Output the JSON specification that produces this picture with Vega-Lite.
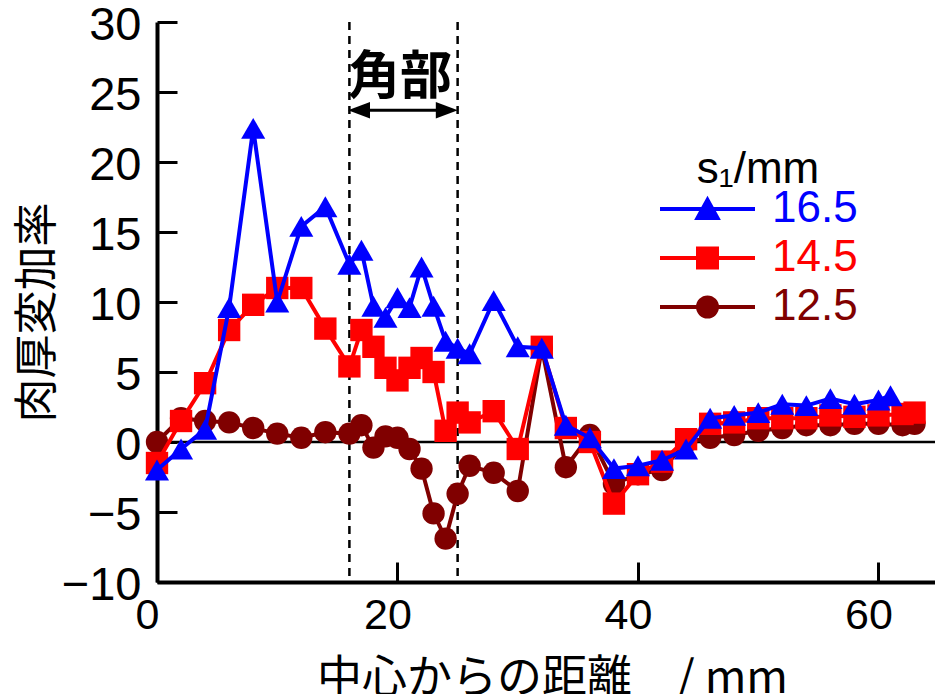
{
  "$schema": "https://vega.github.io/schema/vega-lite/v6.json",
  "width": 778,
  "height": 560,
  "autosize": "none",
  "padding": {"left": 157, "top": 22, "right": 0, "bottom": 112},
  "config": {"view": {"stroke": null}, "font": "Liberation Sans"},
  "datasets": {
    "main": [
      {"s":"12.5","x":0,"y":0.0},{"s":"12.5","x":2,"y":1.7},{"s":"12.5","x":4,"y":1.5},{"s":"12.5","x":6,"y":1.4},{"s":"12.5","x":8,"y":1.0},{"s":"12.5","x":10,"y":0.6},{"s":"12.5","x":12,"y":0.3},{"s":"12.5","x":14,"y":0.7},{"s":"12.5","x":16,"y":0.6},{"s":"12.5","x":17,"y":1.2},{"s":"12.5","x":18,"y":-0.4},{"s":"12.5","x":19,"y":0.4},{"s":"12.5","x":20,"y":0.3},{"s":"12.5","x":21,"y":-0.5},{"s":"12.5","x":22,"y":-1.9},{"s":"12.5","x":23,"y":-5.1},{"s":"12.5","x":24,"y":-6.9},{"s":"12.5","x":25,"y":-3.7},{"s":"12.5","x":26,"y":-1.7},{"s":"12.5","x":28,"y":-2.2},{"s":"12.5","x":30,"y":-3.5},{"s":"12.5","x":32,"y":6.7},{"s":"12.5","x":34,"y":-1.8},{"s":"12.5","x":36,"y":0.5},{"s":"12.5","x":38,"y":-3.0},{"s":"12.5","x":40,"y":-2.3},{"s":"12.5","x":42,"y":-2.0},{"s":"12.5","x":44,"y":0.0},{"s":"12.5","x":46,"y":0.3},{"s":"12.5","x":48,"y":0.5},{"s":"12.5","x":50,"y":0.8},{"s":"12.5","x":52,"y":1.0},{"s":"12.5","x":54,"y":1.2},{"s":"12.5","x":56,"y":1.2},{"s":"12.5","x":58,"y":1.3},{"s":"12.5","x":60,"y":1.3},{"s":"12.5","x":62,"y":1.2},{"s":"12.5","x":63,"y":1.3},
      {"s":"14.5","x":0,"y":-1.5},{"s":"14.5","x":2,"y":1.5},{"s":"14.5","x":4,"y":4.2},{"s":"14.5","x":6,"y":8.0},{"s":"14.5","x":8,"y":9.8},{"s":"14.5","x":10,"y":11.0},{"s":"14.5","x":12,"y":11.0},{"s":"14.5","x":14,"y":8.1},{"s":"14.5","x":16,"y":5.4},{"s":"14.5","x":17,"y":8.0},{"s":"14.5","x":18,"y":6.8},{"s":"14.5","x":19,"y":5.3},{"s":"14.5","x":20,"y":4.4},{"s":"14.5","x":21,"y":5.3},{"s":"14.5","x":22,"y":6.0},{"s":"14.5","x":23,"y":5.0},{"s":"14.5","x":24,"y":0.8},{"s":"14.5","x":25,"y":2.1},{"s":"14.5","x":26,"y":1.4},{"s":"14.5","x":28,"y":2.2},{"s":"14.5","x":30,"y":-0.5},{"s":"14.5","x":32,"y":6.8},{"s":"14.5","x":34,"y":1.0},{"s":"14.5","x":36,"y":0.0},{"s":"14.5","x":38,"y":-4.4},{"s":"14.5","x":40,"y":-2.3},{"s":"14.5","x":42,"y":-1.4},{"s":"14.5","x":44,"y":0.2},{"s":"14.5","x":46,"y":1.3},{"s":"14.5","x":48,"y":1.4},{"s":"14.5","x":50,"y":1.7},{"s":"14.5","x":52,"y":1.7},{"s":"14.5","x":54,"y":1.7},{"s":"14.5","x":56,"y":1.9},{"s":"14.5","x":58,"y":1.8},{"s":"14.5","x":60,"y":1.9},{"s":"14.5","x":62,"y":2.0},{"s":"14.5","x":63,"y":2.1},
      {"s":"16.5","x":0,"y":-2.0},{"s":"16.5","x":2,"y":-0.5},{"s":"16.5","x":4,"y":0.9},{"s":"16.5","x":6,"y":9.6},{"s":"16.5","x":8,"y":22.4},{"s":"16.5","x":10,"y":10.0},{"s":"16.5","x":12,"y":15.4},{"s":"16.5","x":14,"y":16.8},{"s":"16.5","x":16,"y":12.7},{"s":"16.5","x":17,"y":13.7},{"s":"16.5","x":18,"y":9.7},{"s":"16.5","x":19,"y":8.9},{"s":"16.5","x":20,"y":10.3},{"s":"16.5","x":21,"y":9.6},{"s":"16.5","x":22,"y":12.5},{"s":"16.5","x":23,"y":9.7},{"s":"16.5","x":24,"y":7.2},{"s":"16.5","x":25,"y":6.7},{"s":"16.5","x":26,"y":6.3},{"s":"16.5","x":28,"y":10.1},{"s":"16.5","x":30,"y":6.8},{"s":"16.5","x":32,"y":6.7},{"s":"16.5","x":34,"y":1.2},{"s":"16.5","x":36,"y":0.3},{"s":"16.5","x":38,"y":-1.9},{"s":"16.5","x":40,"y":-1.7},{"s":"16.5","x":42,"y":-1.3},{"s":"16.5","x":44,"y":-0.5},{"s":"16.5","x":46,"y":1.7},{"s":"16.5","x":48,"y":1.9},{"s":"16.5","x":50,"y":2.1},{"s":"16.5","x":52,"y":2.7},{"s":"16.5","x":54,"y":2.6},{"s":"16.5","x":56,"y":3.1},{"s":"16.5","x":58,"y":2.7},{"s":"16.5","x":60,"y":3.0},{"s":"16.5","x":61,"y":3.3}
    ]
  },
  "layer": [
    {
      "data": {"values": [{"x": 16}, {"x": 25}]},
      "mark": {"type": "rule", "color": "black", "strokeWidth": 2.5, "strokeDash": [8, 6]},
      "encoding": {"x": {"field": "x", "type": "quantitative", "scale": {"domain": [0, 64.7], "nice": false, "zero": false},
          "axis": {"values": [0, 20, 40, 60], "title": "中心からの距離　/ mm", "titleFont": "Noto Sans CJK JP", "titleFontSize": 45, "titleFontWeight": "normal", "titleColor": "black", "titleX": 395, "titleY": 96, "titleBaseline": "middle", "titleAlign": "center",
            "labelFont": "Liberation Sans", "labelFontSize": 43, "labelColor": "black", "labelOffset": -10, "labelPadding": 32, "labelFlush": false, "labelOverlap": false,
            "tickSize": -20, "tickWidth": 3, "tickColor": "black", "domainColor": "black", "domainWidth": 4, "grid": false}}}
    },
    {
      "data": {"values": [{"y": 0}]},
      "mark": {"type": "rule", "color": "black", "strokeWidth": 2.5},
      "encoding": {"y": {"field": "y", "type": "quantitative", "scale": {"domain": [-10, 30], "nice": false},
          "axis": {"values": [-10, -5, 0, 5, 10, 15, 20, 25, 30], "title": "肉厚変加率", "titleFont": "Noto Sans CJK JP", "titleFontSize": 44, "titleFontWeight": "normal", "titleColor": "black", "titleX": -119, "titleY": 290, "titleBaseline": "middle", "titleAlign": "center", "titleAngle": 270,
            "labelFont": "Liberation Sans", "labelFontSize": 47, "labelColor": "black", "labelPadding": 36, "labelOffset": 3, "labelFlush": false, "labelOverlap": false,
            "tickSize": -20, "tickWidth": 3, "tickColor": "black", "domainColor": "black", "domainWidth": 4, "grid": false}}}
    },
    {
      "data": {"name": "main"},
      "transform": [{"filter": "datum.s == '12.5'"}],
      "mark": {"type": "line", "strokeWidth": 4, "color": "#800000"},
      "encoding": {"x": {"field": "x", "type": "quantitative", "title": "中心からの距離　/ mm"}, "y": {"field": "y", "type": "quantitative", "title": "肉厚変加率"}}
    },
    {
      "data": {"name": "main"},
      "transform": [{"filter": "datum.s == '12.5'"}],
      "mark": {"type": "point", "filled": true, "opacity": 1, "size": 500, "shape": "circle", "color": "#800000"},
      "encoding": {"x": {"field": "x", "type": "quantitative", "title": "中心からの距離　/ mm"}, "y": {"field": "y", "type": "quantitative", "title": "肉厚変加率"}}
    },
    {
      "data": {"name": "main"},
      "transform": [{"filter": "datum.s == '14.5'"}],
      "mark": {"type": "line", "strokeWidth": 4, "color": "#ff0000"},
      "encoding": {"x": {"field": "x", "type": "quantitative", "title": "中心からの距離　/ mm"}, "y": {"field": "y", "type": "quantitative", "title": "肉厚変加率"}}
    },
    {
      "data": {"name": "main"},
      "transform": [{"filter": "datum.s == '14.5'"}],
      "mark": {"type": "point", "filled": true, "opacity": 1, "size": 500, "shape": "square", "color": "#ff0000"},
      "encoding": {"x": {"field": "x", "type": "quantitative", "title": "中心からの距離　/ mm"}, "y": {"field": "y", "type": "quantitative", "title": "肉厚変加率"}}
    },
    {
      "data": {"name": "main"},
      "transform": [{"filter": "datum.s == '16.5'"}],
      "mark": {"type": "line", "strokeWidth": 4, "color": "#0000ff"},
      "encoding": {"x": {"field": "x", "type": "quantitative", "title": "中心からの距離　/ mm"}, "y": {"field": "y", "type": "quantitative", "title": "肉厚変加率"}}
    },
    {
      "data": {"name": "main"},
      "transform": [{"filter": "datum.s == '16.5'"}],
      "mark": {"type": "point", "filled": true, "opacity": 1, "size": 580, "shape": "triangle-up", "color": "#0000ff"},
      "encoding": {"x": {"field": "x", "type": "quantitative", "title": "中心からの距離　/ mm"}, "y": {"field": "y", "type": "quantitative", "title": "肉厚変加率"}}
    },
    {
      "data": {"name": "main"},
      "transform": [{"filter": "datum.x == 0"}],
      "mark": {"type": "point", "filled": true, "opacity": 0, "size": 9025, "strokeWidth": 4},
      "encoding": {
        "x": {"field": "x", "type": "quantitative", "title": "中心からの距離　/ mm"},
        "y": {"field": "y", "type": "quantitative", "title": "肉厚変加率"},
        "shape": {"field": "s", "type": "nominal",
          "scale": {"domain": ["16.5", "14.5", "12.5"], "range": ["M-1,0H1M-0.21,0.19L0,-0.19L0.21,0.19Z", "M-1,0H1M-0.2,-0.2H0.2V0.2H-0.2Z", "M-1,0H1M-0.2,0A0.2,0.2,0,1,0,0.2,0A0.2,0.2,0,1,0,-0.2,0Z"]},
          "legend": {"title": "s₁/mm", "orient": "none", "legendX": 501, "legendY": 126,
            "titleFont": "Liberation Sans", "titleFontSize": 44, "titleFontWeight": "normal", "titleColor": "black", "titleAnchor": "middle", "titlePadding": -7,
            "labelFont": "Liberation Sans", "labelFontSize": 44, "labelOffset": 15, "labelLimit": 300,
            "labelColor": {"expr": "datum.value == '16.5' ? '#0000ff' : datum.value == '14.5' ? '#ff0000' : '#800000'"},
            "clipHeight": 48, "rowPadding": 1, "padding": 0, "symbolSize": 9025, "symbolStrokeWidth": 4, "symbolOpacity": 1}},
        "fill": {"field": "s", "type": "nominal",
          "scale": {"domain": ["16.5", "14.5", "12.5"], "range": ["#0000ff", "#ff0000", "#800000"]},
          "legend": {"title": "s₁/mm", "orient": "none", "legendX": 501, "legendY": 126,
            "titleFont": "Liberation Sans", "titleFontSize": 44, "titleFontWeight": "normal", "titleColor": "black", "titleAnchor": "middle", "titlePadding": -7,
            "labelFont": "Liberation Sans", "labelFontSize": 44, "labelOffset": 15, "labelLimit": 300,
            "labelColor": {"expr": "datum.value == '16.5' ? '#0000ff' : datum.value == '14.5' ? '#ff0000' : '#800000'"},
            "clipHeight": 48, "rowPadding": 1, "padding": 0, "symbolSize": 9025, "symbolStrokeWidth": 4, "symbolOpacity": 1}},
        "stroke": {"field": "s", "type": "nominal",
          "scale": {"domain": ["16.5", "14.5", "12.5"], "range": ["#0000ff", "#ff0000", "#800000"]},
          "legend": {"title": "s₁/mm", "orient": "none", "legendX": 501, "legendY": 126,
            "titleFont": "Liberation Sans", "titleFontSize": 44, "titleFontWeight": "normal", "titleColor": "black", "titleAnchor": "middle", "titlePadding": -7,
            "labelFont": "Liberation Sans", "labelFontSize": 44, "labelOffset": 15, "labelLimit": 300,
            "labelColor": {"expr": "datum.value == '16.5' ? '#0000ff' : datum.value == '14.5' ? '#ff0000' : '#800000'"},
            "clipHeight": 48, "rowPadding": 1, "padding": 0, "symbolSize": 9025, "symbolStrokeWidth": 4, "symbolOpacity": 1}}
      }
    },
    {
      "data": {"values": [{"x": 16.8, "x2": 24.1, "y": 23.7}]},
      "mark": {"type": "rule", "color": "black", "strokeWidth": 3},
      "encoding": {"x": {"field": "x", "type": "quantitative"}, "x2": {"field": "x2"}, "y": {"field": "y", "type": "quantitative"}}
    },
    {
      "data": {"values": [{"x": 16.8, "y": 23.7}]},
      "mark": {"type": "point", "filled": true, "color": "black", "opacity": 1, "size": 484, "shape": "M-1,0L1,-0.75L1,0.75Z"},
      "encoding": {"x": {"field": "x", "type": "quantitative"}, "y": {"field": "y", "type": "quantitative"}}
    },
    {
      "data": {"values": [{"x": 24.1, "y": 23.7}]},
      "mark": {"type": "point", "filled": true, "color": "black", "opacity": 1, "size": 484, "shape": "M1,0L-1,-0.75L-1,0.75Z"},
      "encoding": {"x": {"field": "x", "type": "quantitative"}, "y": {"field": "y", "type": "quantitative"}}
    },
    {
      "data": {"values": [{"x": 20.2, "y": 26.0, "label": "角部"}]},
      "mark": {"type": "text", "font": "Noto Sans CJK JP", "fontWeight": "bold", "fontSize": 52, "color": "black", "baseline": "middle", "align": "center"},
      "encoding": {"x": {"field": "x", "type": "quantitative"}, "y": {"field": "y", "type": "quantitative"}, "text": {"field": "label"}}
    }
  ]
}
